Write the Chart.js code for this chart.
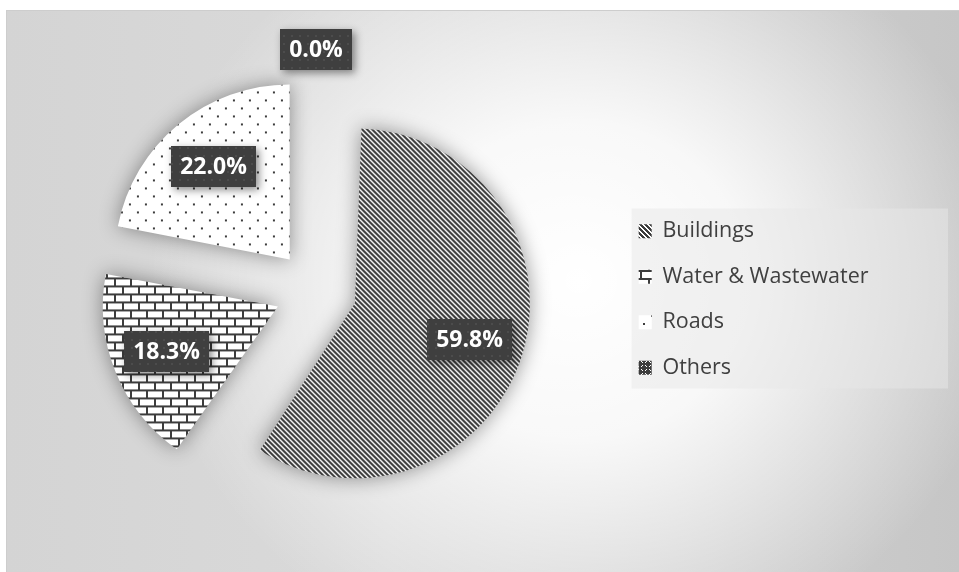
<!DOCTYPE html>
<html>
<head>
<meta charset="utf-8">
<script src="https://cdn.jsdelivr.net/npm/chart.js@4.4.1/dist/chart.umd.min.js"></script>
<style>
  html, body { margin: 0; padding: 0; background: #fff; }
  #wrap { position: relative; width: 959px; height: 572px; overflow: hidden; }
  #panel {
    position: absolute; left: 6px; top: 10px; right: -2px; bottom: -2px;
    border: 1px solid #cdcdcd;
    background:
      radial-gradient(ellipse 45% 70% at 60% 48%, rgba(255,255,255,1) 0%, rgba(255,255,255,0.85) 40%, rgba(255,255,255,0) 100%),
      linear-gradient(to right, #d4d4d4, #dadada 40%, #c6c6c6);
  }
  #chart { position: absolute; left: 0; top: 0; }
</style>
</head>
<body>
<div id="wrap">
  <div id="panel"></div>
  <canvas id="chart" width="959" height="572"></canvas>
</div>
<script>
var sectors = ['Buildings', 'Water & Wastewater', 'Roads', 'Others'];
var shares = [59.8, 18.3, 22.0, 0.0];

var INK = '#3c3c3c';
var PIE_RADIUS = 175;
var EXPLODE = 41;

// small repeating tiles used as hatch fills
function tile(size, paint) {
    var c = document.createElement('canvas');
    c.width = c.height = size;
    var g = c.getContext('2d');
    paint(g, size);
    return g.createPattern(c, 'repeat');
}

var stripes = tile(10, function (g) {
    g.fillStyle = '#fff'; g.fillRect(0, 0, 10, 10);
    g.fillStyle = INK;
    for (var y = 0; y < 10; y++)
        for (var x = 0; x < 10; x++)
            if (((x - y) % 5 + 5) % 5 < 3) g.fillRect(x, y, 1, 1);
});
var bricks = tile(16, function (g) {
    g.fillStyle = '#fff'; g.fillRect(0, 0, 16, 16);
    g.fillStyle = INK;
    g.fillRect(0, 6, 16, 2); g.fillRect(0, 14, 16, 2);
    g.fillRect(0, 0, 2, 6); g.fillRect(8, 8, 2, 6);
});
var dots = tile(16, function (g) {
    g.fillStyle = '#fff'; g.fillRect(0, 0, 16, 16);
    g.fillStyle = INK;
    g.fillRect(3, 3, 2, 2); g.fillRect(11, 11, 2, 2);
});
var cross = tile(8, function (g) {
    g.fillStyle = INK; g.fillRect(0, 0, 8, 8);
    g.fillStyle = '#fff';
    [[1,1],[2,2],[5,2],[6,1],[2,5],[1,6],[5,5],[6,6]].forEach(function (p) { g.fillRect(p[0], p[1], 1, 1); });
});
var labelDots = tile(8, function (g) {
    g.fillStyle = 'rgba(255,255,255,0.07)';
    g.fillRect(3, 3, 2, 2);
});

// light panel behind the legend
var legendBackdrop = {
    id: 'legendBackdrop',
    beforeDraw: function (chart) {
        var lg = chart.legend, ctx = chart.ctx;
        var mid = (lg.top + lg.bottom) / 2 + 7.5;
        ctx.save();
        ctx.fillStyle = 'rgba(232,232,232,0.5)';
        ctx.fillRect(lg.left + 17, mid - 90, chart.width - lg.left - 28, 180);
        ctx.restore();
    }
};

var sliceDecor = {
    id: 'sliceDecor',
    beforeDatasetsDraw: function (chart) {
        var ctx = chart.ctx;
        // v4 arcs grow by offset/4 when exploded; keep all slices the same size
        chart.getDatasetMeta(0).data.forEach(function (arc) {
            var shift = (arc.options.offset || 0) / 4;
            var fix = 1 - Math.sin(Math.min(Math.PI, arc.circumference));
            arc.outerRadius = PIE_RADIUS - shift * fix;
        });
        ctx.save();
        ctx.shadowColor = 'rgba(0,0,0,0.4)';
        ctx.shadowBlur = 20;
    },
    afterDatasetsDraw: function (chart) {
        var ctx = chart.ctx;
        ctx.restore();

        ctx.save();
        ctx.font = 'bold 23px "Open Sans"';
        ctx.textAlign = 'center';
        ctx.textBaseline = 'middle';
        chart.getDatasetMeta(0).data.forEach(function (arc, i) {
            var mid = (arc.startAngle + arc.endAngle) / 2;
            var dist = EXPLODE + PIE_RADIUS * (shares[i] > 0 ? 0.686 : 1.146);
            var x = arc.x + Math.cos(mid) * dist;
            var y = arc.y + Math.sin(mid) * dist;
            var text = shares[i].toFixed(1) + '%';
            var w = Math.round(ctx.measureText(text).width + 18), h = 41;
            var bx = Math.round(x - w / 2), by = Math.round(y - h / 2);

            ctx.shadowColor = 'rgba(0,0,0,0.45)';
            ctx.shadowBlur = 8;
            ctx.shadowOffsetX = 3;
            ctx.shadowOffsetY = 3;
            ctx.fillStyle = '#3f3f3f';
            ctx.fillRect(bx, by, w, h);
            ctx.shadowColor = 'transparent';
            ctx.fillStyle = labelDots;
            ctx.fillRect(bx, by, w, h);
            ctx.fillStyle = '#fff';
            ctx.fillText(text, bx + w / 2, by + h / 2 + 1);
        });
        ctx.restore();
    }
};

new Chart(document.getElementById('chart'), {
    type: 'pie',
    data: {
        labels: sectors,
        datasets: [{
            data: shares,
            backgroundColor: [stripes, bricks, dots, cross],
            borderWidth: 0,
            offset: EXPLODE * 4
        }]
    },
    options: {
        responsive: false,
        animation: false,
        events: [],
        radius: PIE_RADIUS,
        layout: { padding: { left: 17, right: 80.5, top: 10, bottom: 0 } },
        plugins: {
            legend: {
                position: 'right',
                title: { display: true, text: '', padding: { top: 16, bottom: 0 }, font: { size: 1 } },
                labels: {
                    boxWidth: 13,
                    boxHeight: 14,
                    padding: 24,
                    color: '#404040',
                    font: { family: '"Open Sans"', size: 21.5 }
                }
            },
            tooltip: { enabled: false }
        }
    },
    plugins: [legendBackdrop, sliceDecor]
});
</script>
</body>
</html>
